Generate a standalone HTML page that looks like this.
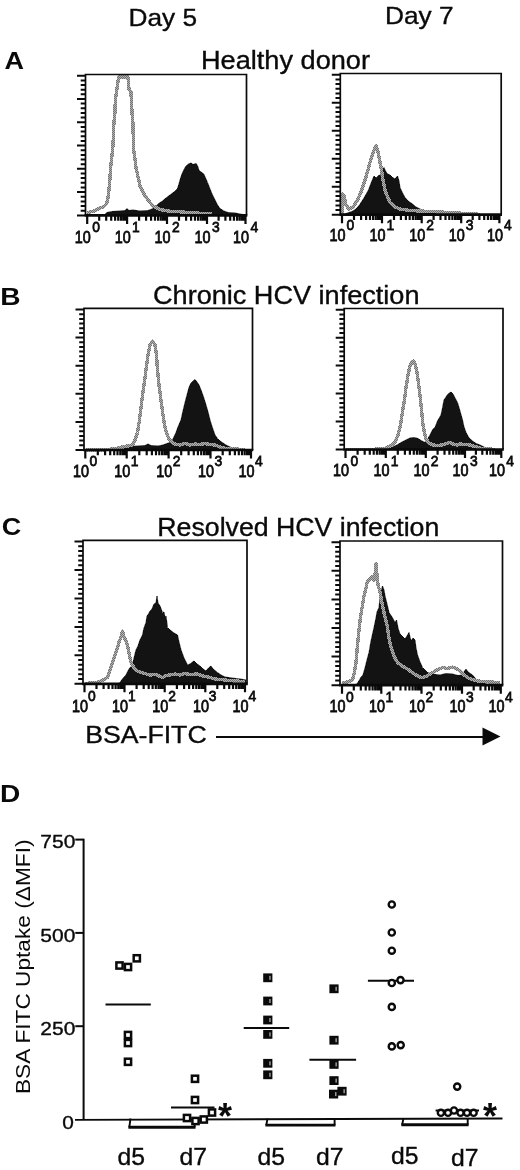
<!DOCTYPE html>
<html><head><meta charset="utf-8"><title>Figure</title>
<style>html,body{margin:0;padding:0;background:#fff}svg{display:block}text{font-family:'Liberation Sans', Arial, Helvetica, sans-serif;fill:#0a0a0a}</style>
</head><body>
<svg width="520" height="1170" viewBox="0 0 520 1170">
<defs><pattern id="dz" width="2" height="2" patternUnits="userSpaceOnUse"><rect width="2" height="2" fill="#b2b2b2"/><rect width="1" height="1" fill="#727272"/><rect x="1" y="1" width="1" height="1" fill="#727272"/></pattern></defs>
<rect width="520" height="1170" fill="#ffffff"/>
<text x="128.6" y="25.5" font-size="24.4" textLength="68.5" lengthAdjust="spacingAndGlyphs" stroke="#0a0a0a" stroke-width="0.35">Day 5</text>
<text x="385" y="24.3" font-size="24.4" textLength="68.5" lengthAdjust="spacingAndGlyphs" stroke="#0a0a0a" stroke-width="0.35">Day 7</text>
<text x="4.5" y="68.8" font-size="24" font-weight="bold" textLength="19.5" lengthAdjust="spacingAndGlyphs">A</text>
<text x="201" y="68.6" font-size="25" textLength="169" lengthAdjust="spacingAndGlyphs" stroke="#0a0a0a" stroke-width="0.35">Healthy donor</text>
<text x="0.25" y="304.8" font-size="24" font-weight="bold" textLength="20.3" lengthAdjust="spacingAndGlyphs">B</text>
<text x="153" y="304.2" font-size="25.4" textLength="266.5" lengthAdjust="spacingAndGlyphs" stroke="#0a0a0a" stroke-width="0.35">Chronic HCV infection</text>
<text x="1.65" y="535" font-size="24" font-weight="bold" textLength="19.5" lengthAdjust="spacingAndGlyphs">C</text>
<text x="157.3" y="536.3" font-size="25.2" textLength="282" lengthAdjust="spacingAndGlyphs" stroke="#0a0a0a" stroke-width="0.35">Resolved HCV infection</text>
<text x="85.2" y="743.4" font-size="24.2" textLength="121.5" lengthAdjust="spacingAndGlyphs" stroke="#0a0a0a" stroke-width="0.35">BSA-FITC</text>
<text x="0" y="802" font-size="23.5" font-weight="bold" textLength="20.3" lengthAdjust="spacingAndGlyphs">D</text>
<polygon points="104.0,215.0 107.0,212.5 112.0,211.5 120.0,211.0 125.0,210.5 127.0,208.5 129.0,210.5 133.0,210.0 140.0,211.0 148.0,210.5 152.0,209.0 155.0,207.5 158.0,204.0 162.5,201.0 166.0,198.0 170.0,195.0 174.0,192.0 177.5,188.5 179.0,184.0 180.0,180.0 182.0,174.0 183.8,170.0 186.0,166.0 188.8,163.8 191.0,163.0 193.0,164.5 196.2,163.5 198.0,167.0 198.8,170.0 201.0,172.0 203.8,174.0 205.5,178.0 207.5,182.5 210.0,189.0 212.5,195.0 215.0,200.0 217.5,205.0 220.0,208.5 223.8,211.0 228.0,212.5 235.0,213.0 240.0,214.0 246.0,215.0" fill="#131313" stroke="#131313" stroke-width="0.8" stroke-linejoin="round" shape-rendering="crispEdges"/>
<polyline points="87.0,212.5 93.0,211.5 99.0,208.5 104.0,206.5 106.5,204.0 108.0,198.0 109.5,185.0 110.5,169.0 112.0,155.0 113.0,145.0 113.8,125.0 115.0,112.0 115.3,100.0 117.0,89.0 118.6,76.9 127.9,76.9 129.0,89.0 131.0,92.0 131.5,105.0 133.0,125.0 133.6,150.0 136.3,169.0 140.2,186.5 145.0,196.0 152.7,205.8 160.4,209.6 170.0,211.3 180.0,211.8 195.0,213.0 212.0,214.0" fill="none" stroke="url(#dz)" stroke-width="3.4" stroke-linejoin="round" stroke-linecap="butt" shape-rendering="crispEdges"/>
<path d="M85.5,215.4 L85.5,74.5 L246.5,74.5 L246.5,215.4" fill="none" stroke="#0a0a0a" stroke-width="1.7"/>
<line x1="84.7" y1="215.4" x2="247.3" y2="215.4" stroke="#0a0a0a" stroke-width="2.7"/>
<path d="M77.0,75.7H85.5M80.7,80.4H85.5M80.7,85.0H85.5M80.7,89.7H85.5M80.7,94.3H85.5M77.0,99.0H85.5M80.7,103.6H85.5M80.7,108.3H85.5M80.7,113.0H85.5M80.7,117.6H85.5M77.0,122.3H85.5M80.7,126.9H85.5M80.7,131.6H85.5M80.7,136.2H85.5M80.7,140.9H85.5M77.0,145.6H85.5M80.7,150.2H85.5M80.7,154.9H85.5M80.7,159.5H85.5M80.7,164.2H85.5M77.0,168.8H85.5M80.7,173.5H85.5M80.7,178.1H85.5M80.7,182.8H85.5M80.7,187.5H85.5M77.0,192.1H85.5M80.7,196.8H85.5M80.7,201.4H85.5M80.7,206.1H85.5M80.7,210.7H85.5M77.0,215.4H85.5" stroke="#0a0a0a" stroke-width="2" fill="none"/>
<path d="M87.2,215.4V223.9M99.2,215.4V220.7M106.2,215.4V220.7M111.2,215.4V220.7M115.1,215.4V220.7M118.2,215.4V220.7M120.9,215.4V220.7M123.2,215.4V220.7M125.3,215.4V220.7M127.1,215.4V223.9M139.1,215.4V220.7M146.1,215.4V220.7M151.1,215.4V220.7M155.0,215.4V220.7M158.1,215.4V220.7M160.8,215.4V220.7M163.1,215.4V220.7M165.2,215.4V220.7M167.0,215.4V223.9M179.0,215.4V220.7M186.1,215.4V220.7M191.1,215.4V220.7M195.0,215.4V220.7M198.1,215.4V220.7M200.8,215.4V220.7M203.1,215.4V220.7M205.2,215.4V220.7M207.0,215.4V223.9M218.6,215.4V220.7M225.4,215.4V220.7M230.2,215.4V220.7M233.9,215.4V220.7M237.0,215.4V220.7M239.5,215.4V220.7M241.8,215.4V220.7M243.7,215.4V220.7M245.5,215.4V223.9" stroke="#0a0a0a" stroke-width="2.2" fill="none"/>
<text x="74.8" y="242.5" font-size="17" textLength="16" lengthAdjust="spacingAndGlyphs" stroke="#0a0a0a" stroke-width="0.8">10</text>
<text x="92.2" y="231.5" font-size="15.5" textLength="7.7" lengthAdjust="spacingAndGlyphs" stroke="#0a0a0a" stroke-width="0.8">0</text>
<text x="114.7" y="242.5" font-size="17" textLength="16" lengthAdjust="spacingAndGlyphs" stroke="#0a0a0a" stroke-width="0.8">10</text>
<text x="132.1" y="231.5" font-size="15.5" textLength="7.7" lengthAdjust="spacingAndGlyphs" stroke="#0a0a0a" stroke-width="0.8">1</text>
<text x="154.6" y="242.5" font-size="17" textLength="16" lengthAdjust="spacingAndGlyphs" stroke="#0a0a0a" stroke-width="0.8">10</text>
<text x="172.0" y="231.5" font-size="15.5" textLength="7.7" lengthAdjust="spacingAndGlyphs" stroke="#0a0a0a" stroke-width="0.8">2</text>
<text x="194.6" y="242.5" font-size="17" textLength="16" lengthAdjust="spacingAndGlyphs" stroke="#0a0a0a" stroke-width="0.8">10</text>
<text x="212.0" y="231.5" font-size="15.5" textLength="7.7" lengthAdjust="spacingAndGlyphs" stroke="#0a0a0a" stroke-width="0.8">3</text>
<text x="233.1" y="242.5" font-size="17" textLength="16" lengthAdjust="spacingAndGlyphs" stroke="#0a0a0a" stroke-width="0.8">10</text>
<text x="250.5" y="231.5" font-size="15.5" textLength="7.7" lengthAdjust="spacingAndGlyphs" stroke="#0a0a0a" stroke-width="0.8">4</text>
<polygon points="343.0,215.0 346.0,213.5 352.0,211.5 356.0,209.0 359.5,205.0 364.0,198.0 368.5,190.0 371.5,182.0 374.0,176.0 376.0,178.0 379.0,175.0 381.0,176.0 383.0,169.0 384.0,167.5 385.5,171.0 387.5,174.0 390.0,175.0 392.5,177.5 395.0,179.0 397.5,176.0 399.0,181.0 400.0,187.5 402.5,193.0 405.0,197.5 408.0,201.0 412.5,204.0 416.0,207.0 420.0,209.0 425.0,211.0 430.0,212.0 445.0,214.0 460.0,215.0" fill="#131313" stroke="#131313" stroke-width="0.8" stroke-linejoin="round" shape-rendering="crispEdges"/>
<polyline points="342.6,214.0 342.6,194.0 344.0,196.0 346.0,205.0 349.0,209.0 353.0,207.0 357.5,200.0 361.0,192.0 365.0,180.0 368.0,170.0 370.0,162.5 373.0,153.0 376.0,146.0 378.0,152.0 381.0,167.5 383.0,180.0 385.0,190.0 387.5,197.0 390.0,202.5 395.0,207.0 400.0,209.0 410.0,210.5 420.0,211.0 450.0,212.5 465.0,213.5 480.0,214.3" fill="none" stroke="url(#dz)" stroke-width="3.4" stroke-linejoin="round" stroke-linecap="butt" shape-rendering="crispEdges"/>
<path d="M340.3,214.7 L340.3,73.5 L501.2,73.5 L501.2,214.7" fill="none" stroke="#0a0a0a" stroke-width="1.7"/>
<line x1="339.5" y1="214.7" x2="502.0" y2="214.7" stroke="#0a0a0a" stroke-width="2.7"/>
<path d="M331.8,74.7H340.3M335.5,79.4H340.3M335.5,84.0H340.3M335.5,88.7H340.3M335.5,93.4H340.3M335.5,98.0H340.3M331.8,102.7H340.3M335.5,107.4H340.3M335.5,112.0H340.3M335.5,116.7H340.3M335.5,121.4H340.3M335.5,126.0H340.3M331.8,130.7H340.3M335.5,135.4H340.3M335.5,140.0H340.3M335.5,144.7H340.3M335.5,149.4H340.3M335.5,154.0H340.3M331.8,158.7H340.3M335.5,163.4H340.3M335.5,168.0H340.3M335.5,172.7H340.3M335.5,177.4H340.3M335.5,182.0H340.3M331.8,186.7H340.3M335.5,191.4H340.3M335.5,196.0H340.3M335.5,200.7H340.3M335.5,205.4H340.3M335.5,210.0H340.3M331.8,214.7H340.3" stroke="#0a0a0a" stroke-width="2" fill="none"/>
<path d="M342.0,214.7V223.2M354.0,214.7V220.0M361.1,214.7V220.0M366.1,214.7V220.0M370.0,214.7V220.0M373.1,214.7V220.0M375.8,214.7V220.0M378.1,214.7V220.0M380.2,214.7V220.0M382.0,214.7V223.2M394.0,214.7V220.0M400.9,214.7V220.0M405.9,214.7V220.0M409.7,214.7V220.0M412.9,214.7V220.0M415.6,214.7V220.0M417.9,214.7V220.0M419.9,214.7V220.0M421.7,214.7V223.2M433.6,214.7V220.0M440.5,214.7V220.0M445.5,214.7V220.0M449.3,214.7V220.0M452.4,214.7V220.0M455.1,214.7V220.0M457.4,214.7V220.0M459.4,214.7V220.0M461.2,214.7V223.2M472.7,214.7V220.0M479.4,214.7V220.0M484.2,214.7V220.0M487.9,214.7V220.0M490.9,214.7V220.0M493.5,214.7V220.0M495.7,214.7V220.0M497.7,214.7V220.0M499.4,214.7V223.2" stroke="#0a0a0a" stroke-width="2.2" fill="none"/>
<text x="329.6" y="241.4" font-size="17" textLength="16" lengthAdjust="spacingAndGlyphs" stroke="#0a0a0a" stroke-width="0.8">10</text>
<text x="346.6" y="230.4" font-size="15.5" textLength="7.7" lengthAdjust="spacingAndGlyphs" stroke="#0a0a0a" stroke-width="0.8">0</text>
<text x="369.6" y="241.4" font-size="17" textLength="16" lengthAdjust="spacingAndGlyphs" stroke="#0a0a0a" stroke-width="0.8">10</text>
<text x="386.6" y="230.4" font-size="15.5" textLength="7.7" lengthAdjust="spacingAndGlyphs" stroke="#0a0a0a" stroke-width="0.8">1</text>
<text x="409.3" y="241.4" font-size="17" textLength="16" lengthAdjust="spacingAndGlyphs" stroke="#0a0a0a" stroke-width="0.8">10</text>
<text x="426.3" y="230.4" font-size="15.5" textLength="7.7" lengthAdjust="spacingAndGlyphs" stroke="#0a0a0a" stroke-width="0.8">2</text>
<text x="448.8" y="241.4" font-size="17" textLength="16" lengthAdjust="spacingAndGlyphs" stroke="#0a0a0a" stroke-width="0.8">10</text>
<text x="465.8" y="230.4" font-size="15.5" textLength="7.7" lengthAdjust="spacingAndGlyphs" stroke="#0a0a0a" stroke-width="0.8">3</text>
<text x="487.0" y="241.4" font-size="17" textLength="16" lengthAdjust="spacingAndGlyphs" stroke="#0a0a0a" stroke-width="0.8">10</text>
<text x="504.0" y="230.4" font-size="15.5" textLength="7.7" lengthAdjust="spacingAndGlyphs" stroke="#0a0a0a" stroke-width="0.8">4</text>
<polygon points="108.0,450.5 112.0,449.0 120.0,448.0 130.0,446.5 138.0,446.0 145.0,445.5 148.0,444.0 151.0,445.5 158.0,446.0 163.0,445.0 167.0,443.5 170.0,442.5 172.5,440.0 176.0,432.5 178.0,427.0 181.0,420.0 183.0,411.0 185.0,402.5 187.0,395.0 189.0,387.5 191.0,383.0 193.0,381.0 195.0,379.5 197.0,382.0 199.0,385.0 201.0,390.0 203.5,397.0 206.0,405.0 208.0,412.0 210.0,420.0 212.5,428.0 215.0,435.0 217.5,438.5 220.0,441.0 223.0,443.0 226.0,445.0 229.0,446.5 232.5,448.0 238.0,449.0 245.0,450.5" fill="#131313" stroke="#131313" stroke-width="0.8" stroke-linejoin="round" shape-rendering="crispEdges"/>
<polyline points="86.0,450.0 105.0,449.8 115.0,448.6 125.0,446.5 132.5,445.0 135.0,440.0 137.5,432.5 139.5,420.0 141.0,407.5 143.0,392.0 146.0,370.0 148.0,355.0 150.0,345.0 152.5,341.0 155.0,345.0 156.5,355.0 157.5,370.0 159.0,385.0 161.0,400.0 163.0,415.0 165.0,427.5 167.0,434.0 169.0,439.0 172.0,442.5 175.0,444.0 180.0,445.0 185.0,443.5 190.0,445.0 195.0,444.0 200.0,444.5 205.0,443.5 210.0,444.5 215.0,445.0 220.0,447.0 226.0,448.5 235.0,449.0 245.0,449.5" fill="none" stroke="url(#dz)" stroke-width="3.4" stroke-linejoin="round" stroke-linecap="butt" shape-rendering="crispEdges"/>
<path d="M84,450 L84,308.3 L252.5,308.3 L252.5,450" fill="none" stroke="#0a0a0a" stroke-width="1.7"/>
<line x1="83.2" y1="450" x2="253.3" y2="450" stroke="#0a0a0a" stroke-width="2.7"/>
<path d="M75.5,309.5H84.0M79.2,314.2H84.0M79.2,318.9H84.0M79.2,323.6H84.0M79.2,328.2H84.0M79.2,332.9H84.0M75.5,337.6H84.0M79.2,342.3H84.0M79.2,347.0H84.0M79.2,351.6H84.0M79.2,356.3H84.0M79.2,361.0H84.0M75.5,365.7H84.0M79.2,370.4H84.0M79.2,375.1H84.0M79.2,379.8H84.0M79.2,384.4H84.0M79.2,389.1H84.0M75.5,393.8H84.0M79.2,398.5H84.0M79.2,403.2H84.0M79.2,407.9H84.0M79.2,412.5H84.0M79.2,417.2H84.0M75.5,421.9H84.0M79.2,426.6H84.0M79.2,431.3H84.0M79.2,435.9H84.0M79.2,440.6H84.0M79.2,445.3H84.0M75.5,450.0H84.0" stroke="#0a0a0a" stroke-width="2" fill="none"/>
<path d="M85.3,450V458.5M97.8,450V455.3M105.1,450V455.3M110.2,450V455.3M114.2,450V455.3M117.5,450V455.3M120.3,450V455.3M122.7,450V455.3M124.8,450V455.3M126.7,450V458.5M139.3,450V455.3M146.7,450V455.3M151.9,450V455.3M156.0,450V455.3M159.3,450V455.3M162.1,450V455.3M164.5,450V455.3M166.7,450V455.3M168.6,450V458.5M181.2,450V455.3M188.6,450V455.3M193.8,450V455.3M197.9,450V455.3M201.2,450V455.3M204.0,450V455.3M206.4,450V455.3M208.6,450V455.3M210.5,450V458.5M222.7,450V455.3M229.8,450V455.3M234.9,450V455.3M238.8,450V455.3M242.0,450V455.3M244.7,450V455.3M247.1,450V455.3M249.1,450V455.3M251.0,450V458.5" stroke="#0a0a0a" stroke-width="2.2" fill="none"/>
<text x="72.9" y="477.3" font-size="17" textLength="16" lengthAdjust="spacingAndGlyphs" stroke="#0a0a0a" stroke-width="0.8">10</text>
<text x="89.4" y="466.3" font-size="15.5" textLength="7.7" lengthAdjust="spacingAndGlyphs" stroke="#0a0a0a" stroke-width="0.8">0</text>
<text x="114.3" y="477.3" font-size="17" textLength="16" lengthAdjust="spacingAndGlyphs" stroke="#0a0a0a" stroke-width="0.8">10</text>
<text x="130.8" y="466.3" font-size="15.5" textLength="7.7" lengthAdjust="spacingAndGlyphs" stroke="#0a0a0a" stroke-width="0.8">1</text>
<text x="156.2" y="477.3" font-size="17" textLength="16" lengthAdjust="spacingAndGlyphs" stroke="#0a0a0a" stroke-width="0.8">10</text>
<text x="172.7" y="466.3" font-size="15.5" textLength="7.7" lengthAdjust="spacingAndGlyphs" stroke="#0a0a0a" stroke-width="0.8">2</text>
<text x="198.1" y="477.3" font-size="17" textLength="16" lengthAdjust="spacingAndGlyphs" stroke="#0a0a0a" stroke-width="0.8">10</text>
<text x="214.6" y="466.3" font-size="15.5" textLength="7.7" lengthAdjust="spacingAndGlyphs" stroke="#0a0a0a" stroke-width="0.8">3</text>
<text x="238.6" y="477.3" font-size="17" textLength="16" lengthAdjust="spacingAndGlyphs" stroke="#0a0a0a" stroke-width="0.8">10</text>
<text x="255.1" y="466.3" font-size="15.5" textLength="7.7" lengthAdjust="spacingAndGlyphs" stroke="#0a0a0a" stroke-width="0.8">4</text>
<polygon points="382.0,449.8 388.0,448.5 392.5,447.0 397.0,445.0 402.0,442.0 406.0,440.0 410.0,438.0 414.0,437.5 418.0,438.5 421.0,440.5 425.0,442.5 427.0,440.0 430.0,435.0 433.0,429.0 435.0,427.5 437.5,421.0 441.0,415.0 442.5,408.0 444.0,400.0 446.0,397.0 448.0,394.0 451.0,392.0 453.0,394.0 455.0,398.0 457.5,402.5 460.0,411.0 462.5,420.0 464.0,427.0 466.0,432.5 469.0,438.0 472.5,441.0 476.0,443.5 480.0,445.0 485.0,447.5 490.0,448.5 497.0,449.8" fill="#131313" stroke="#131313" stroke-width="0.8" stroke-linejoin="round" shape-rendering="crispEdges"/>
<polyline points="346.0,449.3 375.0,449.2 385.0,448.3 390.0,446.0 395.0,442.5 398.0,435.0 400.0,427.5 402.0,415.0 404.0,402.5 406.0,388.0 408.0,375.0 410.0,366.0 412.0,362.0 413.5,361.0 415.0,364.0 417.0,372.0 418.5,383.0 420.0,395.0 421.5,410.0 423.0,425.0 424.5,433.0 426.0,439.0 429.0,443.0 432.5,445.0 437.0,445.5 442.5,445.0 446.0,443.5 450.0,442.5 453.0,444.0 457.0,445.0 460.0,444.0 465.0,444.5 470.0,445.0 475.0,446.5 480.0,448.0 485.0,449.0 495.0,449.3" fill="none" stroke="url(#dz)" stroke-width="3.4" stroke-linejoin="round" stroke-linecap="butt" shape-rendering="crispEdges"/>
<path d="M344.2,449.5 L344.2,308.5 L503,308.5 L503,449.5" fill="none" stroke="#0a0a0a" stroke-width="1.7"/>
<line x1="343.4" y1="449.5" x2="503.8" y2="449.5" stroke="#0a0a0a" stroke-width="2.7"/>
<path d="M335.7,309.7H344.2M339.4,314.4H344.2M339.4,319.0H344.2M339.4,323.7H344.2M339.4,328.3H344.2M339.4,333.0H344.2M335.7,337.7H344.2M339.4,342.3H344.2M339.4,347.0H344.2M339.4,351.6H344.2M339.4,356.3H344.2M339.4,361.0H344.2M335.7,365.6H344.2M339.4,370.3H344.2M339.4,374.9H344.2M339.4,379.6H344.2M339.4,384.3H344.2M339.4,388.9H344.2M335.7,393.6H344.2M339.4,398.2H344.2M339.4,402.9H344.2M339.4,407.6H344.2M339.4,412.2H344.2M339.4,416.9H344.2M335.7,421.5H344.2M339.4,426.2H344.2M339.4,430.9H344.2M339.4,435.5H344.2M339.4,440.2H344.2M339.4,444.8H344.2M335.7,449.5H344.2" stroke="#0a0a0a" stroke-width="2" fill="none"/>
<path d="M345.5,449.5V458.0M357.6,449.5V454.8M364.7,449.5V454.8M369.8,449.5V454.8M373.7,449.5V454.8M376.9,449.5V454.8M379.6,449.5V454.8M381.9,449.5V454.8M384.0,449.5V454.8M385.8,449.5V458.0M397.8,449.5V454.8M404.9,449.5V454.8M409.9,449.5V454.8M413.8,449.5V454.8M416.9,449.5V454.8M419.6,449.5V454.8M421.9,449.5V454.8M424.0,449.5V454.8M425.8,449.5V458.0M437.6,449.5V454.8M444.5,449.5V454.8M449.4,449.5V454.8M453.2,449.5V454.8M456.3,449.5V454.8M458.9,449.5V454.8M461.2,449.5V454.8M463.2,449.5V454.8M465.0,449.5V458.0M475.9,449.5V454.8M482.3,449.5V454.8M486.9,449.5V454.8M490.4,449.5V454.8M493.2,449.5V454.8M495.7,449.5V454.8M497.8,449.5V454.8M499.6,449.5V454.8M501.3,449.5V458.0" stroke="#0a0a0a" stroke-width="2.2" fill="none"/>
<text x="333.1" y="476.4" font-size="17" textLength="16" lengthAdjust="spacingAndGlyphs" stroke="#0a0a0a" stroke-width="0.8">10</text>
<text x="350.5" y="465.7" font-size="15.5" textLength="7.7" lengthAdjust="spacingAndGlyphs" stroke="#0a0a0a" stroke-width="0.8">0</text>
<text x="373.4" y="476.4" font-size="17" textLength="16" lengthAdjust="spacingAndGlyphs" stroke="#0a0a0a" stroke-width="0.8">10</text>
<text x="390.8" y="465.7" font-size="15.5" textLength="7.7" lengthAdjust="spacingAndGlyphs" stroke="#0a0a0a" stroke-width="0.8">1</text>
<text x="413.4" y="476.4" font-size="17" textLength="16" lengthAdjust="spacingAndGlyphs" stroke="#0a0a0a" stroke-width="0.8">10</text>
<text x="430.8" y="465.7" font-size="15.5" textLength="7.7" lengthAdjust="spacingAndGlyphs" stroke="#0a0a0a" stroke-width="0.8">2</text>
<text x="452.6" y="476.4" font-size="17" textLength="16" lengthAdjust="spacingAndGlyphs" stroke="#0a0a0a" stroke-width="0.8">10</text>
<text x="470.0" y="465.7" font-size="15.5" textLength="7.7" lengthAdjust="spacingAndGlyphs" stroke="#0a0a0a" stroke-width="0.8">3</text>
<text x="488.9" y="476.4" font-size="17" textLength="16" lengthAdjust="spacingAndGlyphs" stroke="#0a0a0a" stroke-width="0.8">10</text>
<text x="506.3" y="465.7" font-size="15.5" textLength="7.7" lengthAdjust="spacingAndGlyphs" stroke="#0a0a0a" stroke-width="0.8">4</text>
<polygon points="119.0,683.8 121.0,681.0 124.0,677.0 126.0,675.0 129.0,669.0 132.5,665.0 134.0,658.0 136.0,650.0 138.0,646.0 140.0,640.0 142.5,635.0 144.0,628.0 146.0,622.5 147.0,616.0 148.5,614.0 150.0,611.0 152.0,609.0 154.0,604.0 156.0,603.0 157.0,596.0 158.0,603.0 160.0,606.0 162.5,612.5 164.0,612.0 165.0,617.5 166.0,616.0 167.5,627.5 170.0,630.0 174.0,633.0 177.5,635.0 179.0,642.0 181.0,650.0 184.0,658.0 187.5,665.0 190.0,664.0 192.5,662.0 194.0,661.0 197.0,664.0 200.0,666.0 203.0,669.0 206.0,671.0 208.5,668.0 211.0,666.0 213.0,669.0 217.5,672.5 221.0,675.0 225.0,677.0 232.0,678.0 240.0,679.0 246.0,680.0 246.0,683.8" fill="#131313" stroke="#131313" stroke-width="0.8" stroke-linejoin="round" shape-rendering="crispEdges"/>
<polyline points="85.0,683.3 92.0,683.1 97.5,682.3 103.0,680.0 107.5,677.5 110.0,670.0 112.5,662.5 115.0,655.0 117.5,647.5 119.0,642.0 121.0,637.0 122.5,631.0 124.0,637.0 125.5,640.0 127.5,645.0 129.0,653.0 131.0,662.5 134.0,668.0 137.5,671.0 143.0,673.0 150.0,675.0 156.0,674.5 162.5,677.5 166.0,675.5 170.0,675.0 175.0,674.0 180.0,675.0 185.0,673.5 190.0,674.5 197.5,674.0 203.0,676.0 208.0,677.0 215.0,679.0 225.0,680.0 235.0,681.0 245.0,681.5" fill="none" stroke="url(#dz)" stroke-width="3.4" stroke-linejoin="round" stroke-linecap="butt" shape-rendering="crispEdges"/>
<path d="M83,683.8 L83,540.3 L247,540.3 L247,683.8" fill="none" stroke="#0a0a0a" stroke-width="1.7"/>
<line x1="82.2" y1="683.8" x2="247.8" y2="683.8" stroke="#0a0a0a" stroke-width="2.7"/>
<path d="M74.5,541.5H83.0M78.2,546.2H83.0M78.2,551.0H83.0M78.2,555.7H83.0M78.2,560.5H83.0M78.2,565.2H83.0M74.5,570.0H83.0M78.2,574.7H83.0M78.2,579.4H83.0M78.2,584.2H83.0M78.2,588.9H83.0M78.2,593.7H83.0M74.5,598.4H83.0M78.2,603.2H83.0M78.2,607.9H83.0M78.2,612.6H83.0M78.2,617.4H83.0M78.2,622.1H83.0M74.5,626.9H83.0M78.2,631.6H83.0M78.2,636.4H83.0M78.2,641.1H83.0M78.2,645.9H83.0M78.2,650.6H83.0M74.5,655.3H83.0M78.2,660.1H83.0M78.2,664.8H83.0M78.2,669.6H83.0M78.2,674.3H83.0M78.2,679.1H83.0M74.5,683.8H83.0" stroke="#0a0a0a" stroke-width="2" fill="none"/>
<path d="M84.5,683.8V692.3M96.5,683.8V689.1M103.6,683.8V689.1M108.6,683.8V689.1M112.5,683.8V689.1M115.6,683.8V689.1M118.3,683.8V689.1M120.6,683.8V689.1M122.7,683.8V689.1M124.5,683.8V692.3M136.6,683.8V689.1M143.7,683.8V689.1M148.7,683.8V689.1M152.6,683.8V689.1M155.8,683.8V689.1M158.5,683.8V689.1M160.8,683.8V689.1M162.9,683.8V689.1M164.7,683.8V692.3M176.9,683.8V689.1M184.1,683.8V689.1M189.1,683.8V689.1M193.1,683.8V689.1M196.3,683.8V689.1M199.0,683.8V689.1M201.4,683.8V689.1M203.4,683.8V689.1M205.3,683.8V692.3M217.3,683.8V689.1M224.2,683.8V689.1M229.2,683.8V689.1M233.0,683.8V689.1M236.2,683.8V689.1M238.9,683.8V689.1M241.2,683.8V689.1M243.2,683.8V689.1M245.0,683.8V692.3" stroke="#0a0a0a" stroke-width="2.2" fill="none"/>
<text x="72.1" y="711.6" font-size="17" textLength="16" lengthAdjust="spacingAndGlyphs" stroke="#0a0a0a" stroke-width="0.8">10</text>
<text x="88.0" y="701.3" font-size="15.5" textLength="7.7" lengthAdjust="spacingAndGlyphs" stroke="#0a0a0a" stroke-width="0.8">0</text>
<text x="112.1" y="711.6" font-size="17" textLength="16" lengthAdjust="spacingAndGlyphs" stroke="#0a0a0a" stroke-width="0.8">10</text>
<text x="128.0" y="701.3" font-size="15.5" textLength="7.7" lengthAdjust="spacingAndGlyphs" stroke="#0a0a0a" stroke-width="0.8">1</text>
<text x="152.3" y="711.6" font-size="17" textLength="16" lengthAdjust="spacingAndGlyphs" stroke="#0a0a0a" stroke-width="0.8">10</text>
<text x="168.2" y="701.3" font-size="15.5" textLength="7.7" lengthAdjust="spacingAndGlyphs" stroke="#0a0a0a" stroke-width="0.8">2</text>
<text x="192.9" y="711.6" font-size="17" textLength="16" lengthAdjust="spacingAndGlyphs" stroke="#0a0a0a" stroke-width="0.8">10</text>
<text x="208.8" y="701.3" font-size="15.5" textLength="7.7" lengthAdjust="spacingAndGlyphs" stroke="#0a0a0a" stroke-width="0.8">3</text>
<text x="232.6" y="711.6" font-size="17" textLength="16" lengthAdjust="spacingAndGlyphs" stroke="#0a0a0a" stroke-width="0.8">10</text>
<text x="248.5" y="701.3" font-size="15.5" textLength="7.7" lengthAdjust="spacingAndGlyphs" stroke="#0a0a0a" stroke-width="0.8">4</text>
<polygon points="356.0,685.0 357.5,683.0 359.5,680.0 361.0,677.0 363.0,675.0 365.0,668.0 367.0,660.0 369.0,652.5 371.0,641.0 374.0,627.5 376.0,618.0 377.0,612.0 379.0,607.5 380.0,598.0 381.5,590.0 382.5,586.0 384.0,590.0 385.0,596.0 387.0,604.0 389.0,612.5 392.0,617.0 395.0,622.5 396.5,620.0 398.0,628.0 400.0,634.0 403.0,637.0 405.0,639.0 407.0,636.0 409.0,632.5 410.0,637.0 411.0,641.0 413.0,638.0 415.0,640.0 416.0,648.0 417.5,655.0 420.0,662.0 422.5,667.5 425.0,670.0 427.5,672.5 432.0,674.0 440.0,675.0 446.0,673.5 452.5,674.0 458.0,675.5 462.5,675.0 464.5,671.0 466.0,669.0 468.0,672.0 472.5,675.0 475.0,678.0 477.5,681.0 481.0,682.5 485.0,683.5 490.0,685.0" fill="#131313" stroke="#131313" stroke-width="0.8" stroke-linejoin="round" shape-rendering="crispEdges"/>
<polyline points="342.0,683.0 347.0,682.0 352.5,680.0 354.5,672.0 356.0,662.5 357.5,645.0 359.0,630.0 360.5,617.0 362.5,605.0 364.0,596.0 366.0,588.0 367.5,581.0 370.0,579.0 372.0,577.0 374.0,580.0 375.5,572.0 376.0,564.0 377.0,575.0 378.0,585.0 380.0,592.0 382.0,603.0 384.0,612.5 386.0,621.0 387.5,627.5 389.0,638.0 391.0,647.5 394.0,656.0 397.5,662.5 402.0,666.0 407.5,669.0 412.0,672.5 416.0,675.0 420.0,677.0 422.5,677.5 427.0,676.0 432.5,672.5 437.0,670.0 442.5,667.5 447.0,668.5 452.5,667.0 457.0,669.0 460.0,671.0 464.0,675.0 467.5,677.5 472.0,679.5 477.5,681.0 490.0,682.0 500.0,682.5" fill="none" stroke="url(#dz)" stroke-width="3.4" stroke-linejoin="round" stroke-linecap="butt" shape-rendering="crispEdges"/>
<path d="M340,685.2 L340,541 L502.5,541 L502.5,685.2" fill="none" stroke="#0a0a0a" stroke-width="1.7"/>
<line x1="339.2" y1="685.2" x2="503.3" y2="685.2" stroke="#0a0a0a" stroke-width="2.7"/>
<path d="M331.5,542.2H340.0M335.2,547.0H340.0M335.2,551.7H340.0M335.2,556.5H340.0M335.2,561.3H340.0M335.2,566.0H340.0M331.5,570.8H340.0M335.2,575.6H340.0M335.2,580.3H340.0M335.2,585.1H340.0M335.2,589.9H340.0M335.2,594.6H340.0M331.5,599.4H340.0M335.2,604.2H340.0M335.2,608.9H340.0M335.2,613.7H340.0M335.2,618.5H340.0M335.2,623.2H340.0M331.5,628.0H340.0M335.2,632.8H340.0M335.2,637.5H340.0M335.2,642.3H340.0M335.2,647.1H340.0M335.2,651.8H340.0M331.5,656.6H340.0M335.2,661.4H340.0M335.2,666.1H340.0M335.2,670.9H340.0M335.2,675.7H340.0M335.2,680.4H340.0M331.5,685.2H340.0" stroke="#0a0a0a" stroke-width="2" fill="none"/>
<path d="M342.0,685.2V693.7M353.8,685.2V690.5M360.8,685.2V690.5M365.7,685.2V690.5M369.5,685.2V690.5M372.6,685.2V690.5M375.2,685.2V690.5M377.5,685.2V690.5M379.5,685.2V690.5M381.3,685.2V693.7M393.4,685.2V690.5M400.5,685.2V690.5M405.5,685.2V690.5M409.4,685.2V690.5M412.6,685.2V690.5M415.3,685.2V690.5M417.6,685.2V690.5M419.7,685.2V690.5M421.5,685.2V693.7M433.7,685.2V690.5M440.8,685.2V690.5M445.9,685.2V690.5M449.8,685.2V690.5M453.0,685.2V690.5M455.7,685.2V690.5M458.1,685.2V690.5M460.1,685.2V690.5M462.0,685.2V693.7M473.7,685.2V690.5M480.5,685.2V690.5M485.4,685.2V690.5M489.1,685.2V690.5M492.2,685.2V690.5M494.8,685.2V690.5M497.0,685.2V690.5M499.0,685.2V690.5M500.8,685.2V693.7" stroke="#0a0a0a" stroke-width="2.2" fill="none"/>
<text x="329.6" y="711.6" font-size="17" textLength="16" lengthAdjust="spacingAndGlyphs" stroke="#0a0a0a" stroke-width="0.8">10</text>
<text x="346.1" y="702.0" font-size="15.5" textLength="7.7" lengthAdjust="spacingAndGlyphs" stroke="#0a0a0a" stroke-width="0.8">0</text>
<text x="368.9" y="711.6" font-size="17" textLength="16" lengthAdjust="spacingAndGlyphs" stroke="#0a0a0a" stroke-width="0.8">10</text>
<text x="385.4" y="702.0" font-size="15.5" textLength="7.7" lengthAdjust="spacingAndGlyphs" stroke="#0a0a0a" stroke-width="0.8">1</text>
<text x="409.1" y="711.6" font-size="17" textLength="16" lengthAdjust="spacingAndGlyphs" stroke="#0a0a0a" stroke-width="0.8">10</text>
<text x="425.6" y="702.0" font-size="15.5" textLength="7.7" lengthAdjust="spacingAndGlyphs" stroke="#0a0a0a" stroke-width="0.8">2</text>
<text x="449.6" y="711.6" font-size="17" textLength="16" lengthAdjust="spacingAndGlyphs" stroke="#0a0a0a" stroke-width="0.8">10</text>
<text x="466.1" y="702.0" font-size="15.5" textLength="7.7" lengthAdjust="spacingAndGlyphs" stroke="#0a0a0a" stroke-width="0.8">3</text>
<text x="488.4" y="711.6" font-size="17" textLength="16" lengthAdjust="spacingAndGlyphs" stroke="#0a0a0a" stroke-width="0.8">10</text>
<text x="504.9" y="702.0" font-size="15.5" textLength="7.7" lengthAdjust="spacingAndGlyphs" stroke="#0a0a0a" stroke-width="0.8">4</text>
<line x1="216" y1="737" x2="484" y2="737" stroke="#0a0a0a" stroke-width="2.2"/>
<polygon points="482.5,727.5 500.5,736.6 482.5,745.5" fill="#0a0a0a"/>
<path d="M83.6,838.8 V1119.5" stroke="#0a0a0a" stroke-width="2" fill="none"/>
<path d="M75,1119.9 L502.5,1118.5" stroke="#0a0a0a" stroke-width="1.9" fill="none"/>
<path d="M75.3,839.6 H83.6" stroke="#0a0a0a" stroke-width="2" fill="none"/>
<text x="40.3" y="848.2" font-size="19" textLength="35" lengthAdjust="spacingAndGlyphs" stroke="#0a0a0a" stroke-width="0.35">750</text>
<path d="M75.3,932.9 H83.6" stroke="#0a0a0a" stroke-width="2" fill="none"/>
<text x="40.3" y="941.5" font-size="19" textLength="35" lengthAdjust="spacingAndGlyphs" stroke="#0a0a0a" stroke-width="0.35">500</text>
<path d="M75.3,1026.2 H83.6" stroke="#0a0a0a" stroke-width="2" fill="none"/>
<text x="40.3" y="1034.8" font-size="19" textLength="35" lengthAdjust="spacingAndGlyphs" stroke="#0a0a0a" stroke-width="0.35">250</text>
<text x="62.3" y="1128.8" font-size="19" textLength="11.6" lengthAdjust="spacingAndGlyphs" stroke="#0a0a0a" stroke-width="0.35">0</text>
<text transform="translate(30.3,1094) rotate(-90)" font-size="20.2" textLength="254.5" lengthAdjust="spacingAndGlyphs">BSA FITC Uptake (ΔMFI)</text>
<path d="M130.5,1118.5 L129.3,1127.3 M194.6,1118.5 V1127.3" stroke="#0a0a0a" stroke-width="1.9" fill="none"/>
<path d="M128.4,1127.3 H195.5" stroke="#0a0a0a" stroke-width="2.9" fill="none"/>
<path d="M267.5,1118.5 L266.3,1125.1 M334.6,1118.5 V1125.1" stroke="#0a0a0a" stroke-width="1.9" fill="none"/>
<path d="M265.40000000000003,1125.1 H335.5" stroke="#0a0a0a" stroke-width="2.9" fill="none"/>
<path d="M403.4,1118.5 L402.2,1124.7 M467.7,1118.5 V1124.7" stroke="#0a0a0a" stroke-width="1.9" fill="none"/>
<path d="M401.3,1124.7 H468.59999999999997" stroke="#0a0a0a" stroke-width="2.9" fill="none"/>
<text x="117.5" y="1164.8" font-size="24" textLength="27.5" lengthAdjust="spacingAndGlyphs" stroke="#0a0a0a" stroke-width="0.35">d5</text>
<text x="179.5" y="1164.8" font-size="24" textLength="27.5" lengthAdjust="spacingAndGlyphs" stroke="#0a0a0a" stroke-width="0.35">d7</text>
<text x="257.5" y="1164.8" font-size="24" textLength="27.5" lengthAdjust="spacingAndGlyphs" stroke="#0a0a0a" stroke-width="0.35">d5</text>
<text x="316" y="1164.8" font-size="24" textLength="27.5" lengthAdjust="spacingAndGlyphs" stroke="#0a0a0a" stroke-width="0.35">d7</text>
<text x="391" y="1164" font-size="24" textLength="27.5" lengthAdjust="spacingAndGlyphs" stroke="#0a0a0a" stroke-width="0.35">d5</text>
<text x="451" y="1165.8" font-size="24" textLength="27.5" lengthAdjust="spacingAndGlyphs" stroke="#0a0a0a" stroke-width="0.35">d7</text>
<line x1="105.5" y1="1004.5" x2="150.8" y2="1004.5" stroke="#0a0a0a" stroke-width="1.9"/>
<rect x="116.4" y="962.4" width="6.2" height="6.2" fill="#fff" stroke="#0a0a0a" stroke-width="2.5"/>
<rect x="124.9" y="963.9" width="6.2" height="6.2" fill="#fff" stroke="#0a0a0a" stroke-width="2.5"/>
<rect x="133.7" y="955.2" width="6.2" height="6.2" fill="#fff" stroke="#0a0a0a" stroke-width="2.5"/>
<rect x="124.9" y="1031.9" width="6.2" height="6.2" fill="#fff" stroke="#0a0a0a" stroke-width="2.5"/>
<rect x="124.9" y="1039.9" width="6.2" height="6.2" fill="#fff" stroke="#0a0a0a" stroke-width="2.5"/>
<rect x="124.9" y="1058.7" width="6.2" height="6.2" fill="#fff" stroke="#0a0a0a" stroke-width="2.5"/>
<line x1="171" y1="1107.5" x2="214.5" y2="1107.5" stroke="#0a0a0a" stroke-width="1.9"/>
<rect x="191.9" y="1075.7" width="6.2" height="6.2" fill="#fff" stroke="#0a0a0a" stroke-width="2.5"/>
<rect x="191.9" y="1096.9" width="6.2" height="6.2" fill="#fff" stroke="#0a0a0a" stroke-width="2.5"/>
<rect x="208.9" y="1109.4" width="6.2" height="6.2" fill="#fff" stroke="#0a0a0a" stroke-width="2.5"/>
<rect x="183.9" y="1114.9" width="6.2" height="6.2" fill="#fff" stroke="#0a0a0a" stroke-width="2.5"/>
<rect x="192.4" y="1117.9" width="6.2" height="6.2" fill="#fff" stroke="#0a0a0a" stroke-width="2.5"/>
<rect x="200.7" y="1116.4" width="6.2" height="6.2" fill="#fff" stroke="#0a0a0a" stroke-width="2.5"/>
<line x1="243.7" y1="1028" x2="289.2" y2="1028" stroke="#0a0a0a" stroke-width="1.9"/>
<rect x="263.2" y="973.4" width="9.2" height="8.8" fill="#0a0a0a"/><rect x="269.2" y="975.8" width="1.5" height="4" fill="#9a9a9a"/>
<rect x="263.2" y="996.6" width="9.2" height="8.8" fill="#0a0a0a"/><rect x="269.2" y="999.0" width="1.5" height="4" fill="#9a9a9a"/>
<rect x="263.2" y="1015.6" width="9.2" height="8.8" fill="#0a0a0a"/><rect x="269.2" y="1018.0" width="1.5" height="4" fill="#9a9a9a"/>
<rect x="263.2" y="1030.0" width="9.2" height="8.8" fill="#0a0a0a"/><rect x="269.2" y="1032.4" width="1.5" height="4" fill="#9a9a9a"/>
<rect x="263.2" y="1058.9" width="9.2" height="8.8" fill="#0a0a0a"/><rect x="269.2" y="1061.3" width="1.5" height="4" fill="#9a9a9a"/>
<rect x="263.2" y="1070.4" width="9.2" height="8.8" fill="#0a0a0a"/><rect x="269.2" y="1072.8" width="1.5" height="4" fill="#9a9a9a"/>
<line x1="309.4" y1="1059.8" x2="356.1" y2="1059.8" stroke="#0a0a0a" stroke-width="1.9"/>
<rect x="329.4" y="984.4" width="9.2" height="8.8" fill="#0a0a0a"/><rect x="335.4" y="986.8" width="1.5" height="4" fill="#9a9a9a"/>
<rect x="329.4" y="1035.8" width="9.2" height="8.8" fill="#0a0a0a"/><rect x="335.4" y="1038.2" width="1.5" height="4" fill="#9a9a9a"/>
<rect x="329.4" y="1060.0" width="9.2" height="8.8" fill="#0a0a0a"/><rect x="335.4" y="1062.4" width="1.5" height="4" fill="#9a9a9a"/>
<rect x="329.4" y="1076.2" width="9.2" height="8.8" fill="#0a0a0a"/><rect x="335.4" y="1078.6" width="1.5" height="4" fill="#9a9a9a"/>
<rect x="337.4" y="1086.8" width="9.2" height="8.8" fill="#0a0a0a"/><rect x="343.4" y="1089.2" width="1.5" height="4" fill="#9a9a9a"/>
<rect x="329.0" y="1089.7" width="9.2" height="8.8" fill="#0a0a0a"/><rect x="335.0" y="1092.1" width="1.5" height="4" fill="#9a9a9a"/>
<line x1="367.9" y1="980.7" x2="414" y2="980.7" stroke="#0a0a0a" stroke-width="1.9"/>
<circle cx="391.8" cy="904.5" r="3.1" fill="#fff" stroke="#0a0a0a" stroke-width="2.4"/>
<circle cx="391.8" cy="932.5" r="3.1" fill="#fff" stroke="#0a0a0a" stroke-width="2.4"/>
<circle cx="391.8" cy="950.7" r="3.1" fill="#fff" stroke="#0a0a0a" stroke-width="2.4"/>
<circle cx="400.5" cy="980.1" r="3.1" fill="#fff" stroke="#0a0a0a" stroke-width="2.4"/>
<circle cx="391.8" cy="983.0" r="3.1" fill="#fff" stroke="#0a0a0a" stroke-width="2.4"/>
<circle cx="391.8" cy="1006.9" r="3.1" fill="#fff" stroke="#0a0a0a" stroke-width="2.4"/>
<circle cx="391.8" cy="1046.4" r="3.1" fill="#fff" stroke="#0a0a0a" stroke-width="2.4"/>
<circle cx="400.7" cy="1045.1" r="3.1" fill="#fff" stroke="#0a0a0a" stroke-width="2.4"/>
<line x1="435.6" y1="1110.5" x2="479" y2="1110.5" stroke="#0a0a0a" stroke-width="1.9"/>
<circle cx="457.2" cy="1086.6" r="3.1" fill="#fff" stroke="#0a0a0a" stroke-width="2.4"/>
<circle cx="440.9" cy="1112.8" r="3.1" fill="#fff" stroke="#0a0a0a" stroke-width="2.4"/>
<circle cx="448.0" cy="1112.8" r="3.1" fill="#fff" stroke="#0a0a0a" stroke-width="2.4"/>
<circle cx="454.0" cy="1110.5" r="3.1" fill="#fff" stroke="#0a0a0a" stroke-width="2.4"/>
<circle cx="460.5" cy="1112.8" r="3.1" fill="#fff" stroke="#0a0a0a" stroke-width="2.4"/>
<circle cx="467.0" cy="1112.8" r="3.1" fill="#fff" stroke="#0a0a0a" stroke-width="2.4"/>
<circle cx="473.6" cy="1112.8" r="3.1" fill="#fff" stroke="#0a0a0a" stroke-width="2.4"/>
<text x="218" y="1129.4" font-size="36" font-weight="bold">*</text>
<text x="483" y="1129.4" font-size="36" font-weight="bold">*</text>
</svg></body></html>
